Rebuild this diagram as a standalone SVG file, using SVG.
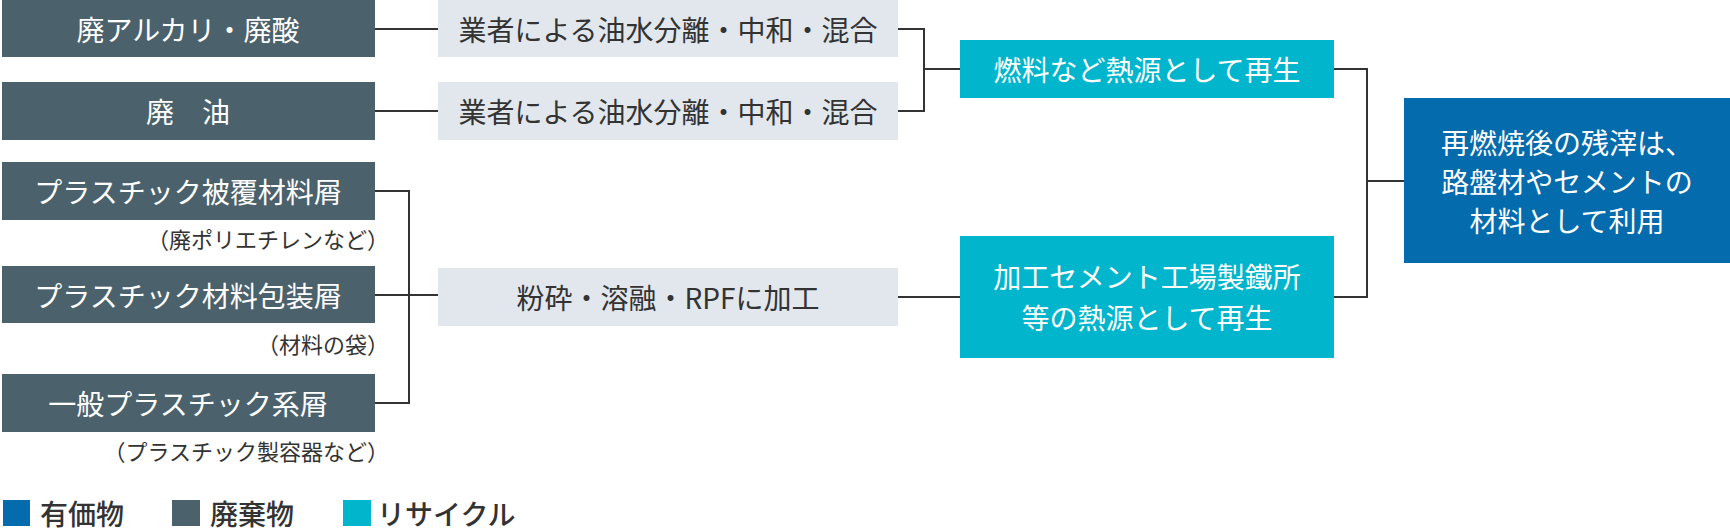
<svg xmlns="http://www.w3.org/2000/svg" width="1730" height="530" viewBox="0 0 1730 530">
<style>
text{font-family:"Noto Sans CJK JP","Noto Sans",sans-serif;dominant-baseline:central}
.w{fill:#4b626c}.g{fill:#e1e7ed}.c{fill:#00b5cc}.b{fill:#046bad}
.tw{fill:#fff;font-size:28px;text-anchor:middle}
.td{fill:#333;font-size:28px;text-anchor:middle}
.ts{fill:#333;font-size:22px;text-anchor:end}
.tl{fill:#333;font-size:28px;font-weight:500}
.ln{fill:none;stroke:#333;stroke-width:2}
</style>
<rect width="1730" height="530" fill="#fff"/>
<g id="connectors" class="ln">
<path d="M375 29H438M375 111H438"/>
<path d="M375 191H409V403H375M375 295H438"/>
<path d="M898 29H924V111H898M924 69H960"/>
<path d="M898 297H960"/>
<path d="M1334 69H1367V297H1334M1367 181H1404"/>
</g>
<g id="n1"><rect class="w" x="2" y="0" width="373" height="57"/><text class="tw" x="188" y="29">廃アルカリ・廃酸</text></g>
<g id="n2"><rect class="w" x="2" y="82" width="373" height="58"/><text class="tw" x="188" y="111">廃　油</text></g>
<g id="n3"><rect class="w" x="2" y="162" width="373" height="58"/><text class="tw" x="188" y="191">プラスチック被覆材料屑</text><text class="ts" x="389" y="238">（廃ポリエチレンなど）</text></g>
<g id="n4"><rect class="w" x="2" y="266" width="373" height="57"/><text class="tw" x="188" y="295">プラスチック材料包装屑</text><text class="ts" x="389" y="343">（材料の袋）</text></g>
<g id="n5"><rect class="w" x="2" y="374" width="373" height="58"/><text class="tw" x="188" y="403">一般プラスチック系屑</text><text class="ts" x="389" y="450">（プラスチック製容器など）</text></g>
<g id="p1"><rect class="g" x="438" y="0" width="460" height="57"/><text class="td" x="668" y="29">業者による油水分離・中和・混合</text></g>
<g id="p2"><rect class="g" x="438" y="82" width="460" height="58"/><text class="td" x="668" y="111">業者による油水分離・中和・混合</text></g>
<g id="p3"><rect class="g" x="438" y="268" width="460" height="58"/><text class="td" x="668" y="297">粉砕・溶融・RPFに加工</text></g>
<g id="r1"><rect class="c" x="960" y="40" width="374" height="58"/><text class="tw" x="1147" y="69">燃料など熱源として再生</text></g>
<g id="r2"><rect class="c" x="960" y="236" width="374" height="122"/><text class="tw" x="1147" y="276">加工セメント工場製鐵所</text><text class="tw" x="1147" y="317">等の熱源として再生</text></g>
<g id="v1"><rect class="b" x="1404" y="98" width="326" height="165"/><text class="tw" x="1567" y="142">再燃焼後の残滓は、</text><text class="tw" x="1567" y="181">路盤材やセメントの</text><text class="tw" x="1567" y="220">材料として利用</text></g>
<g id="legend">
<rect class="b" x="3" y="500" width="27" height="26"/><text class="tl" x="40" y="513">有価物</text>
<rect class="w" x="172" y="500" width="28" height="26"/><text class="tl" x="210" y="513">廃棄物</text>
<rect class="c" x="343" y="500" width="28" height="26"/><text class="tl" x="377" y="513">リサイクル</text>
</g>
</svg>
